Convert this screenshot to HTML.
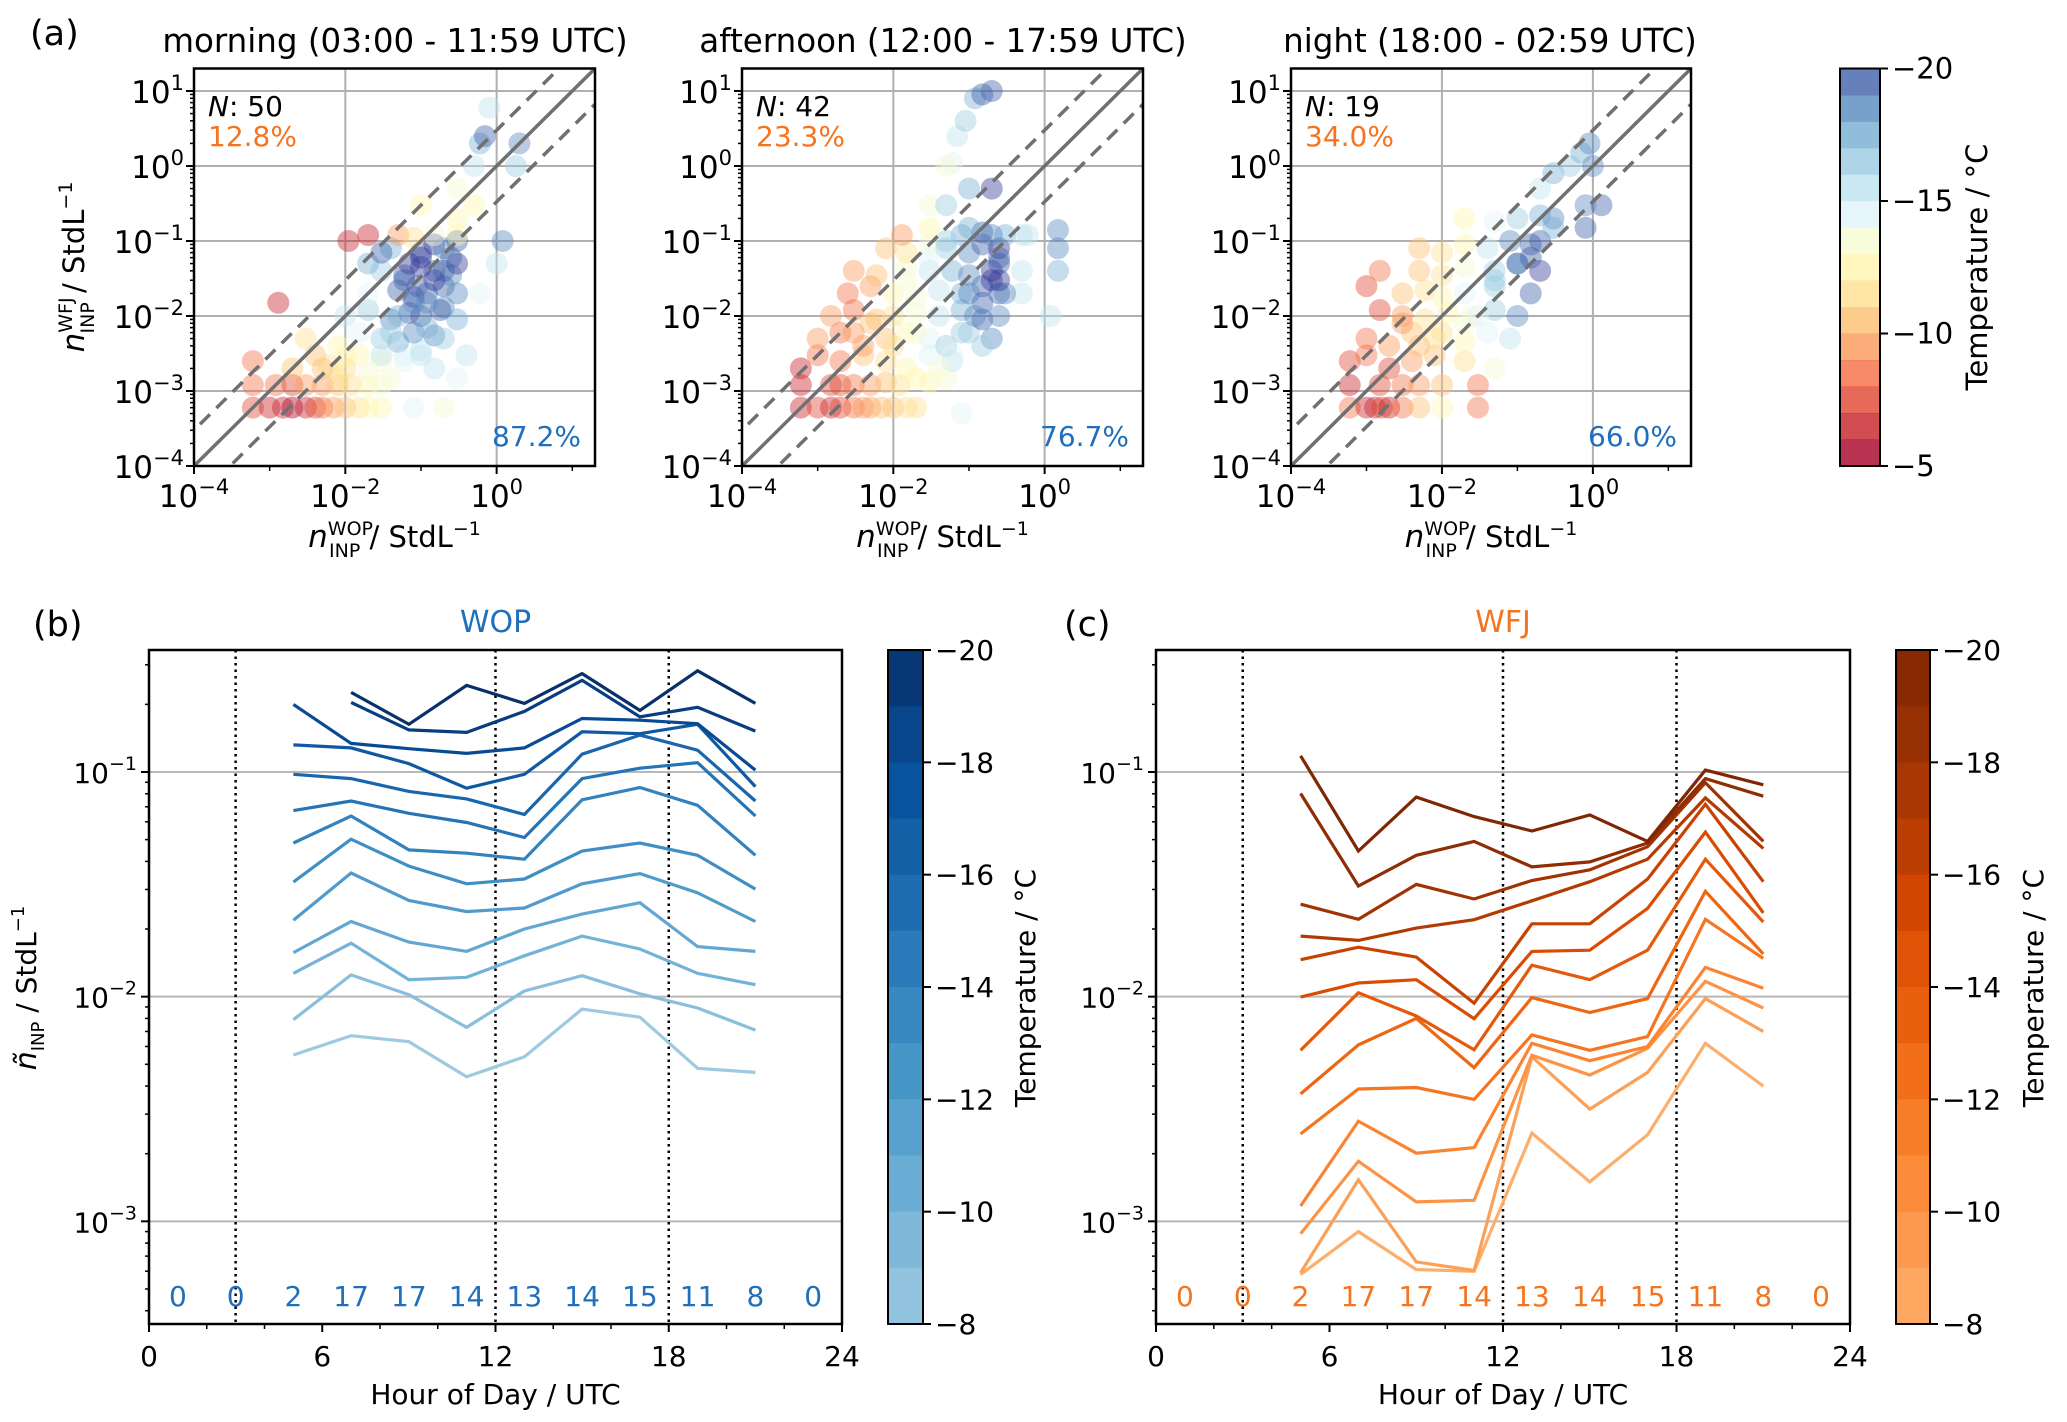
<!DOCTYPE html>
<html><head><meta charset="utf-8"><title>INP comparison WOP vs WFJ</title>
<style>
html,body{margin:0;padding:0;background:#fff;}
svg{display:block;font-family:"DejaVu Sans","Liberation Sans",sans-serif;}
</style></head>
<body>
<svg id="fig" width="2067" height="1422" viewBox="0 0 2067 1422" xmlns="http://www.w3.org/2000/svg">
<rect width="2067" height="1422" fill="#fff"/>
</svg>
<script>
// ---------------- DATA ----------------
// Panel (a) scatter data: morning
const mornX=[6e-4,1e-3,1.5e-3,2e-3,3e-3,4e-3,5e-3,7e-3,1e-2,1.5e-2,2e-2,3e-2,8e-2,
6e-4,1.2e-3,2e-3,3e-3,5e-3,8e-3,1.2e-2,2e-2,3e-2,
6e-4,2e-3,4e-3,6e-3,1e-2,3e-2,6e-2,0.1,
3e-3,8e-3,1.5e-2,3e-2,5e-2,8e-2,0.15,0.2,
1e-2,2e-2,4e-2,7e-2,0.1,0.2,0.3,
2e-2,5e-2,8e-2,0.12,0.2,0.3,
3e-2,6e-2,0.1,0.15,0.25,0.3,
0.04,0.1,0.15,0.2,0.3,
1.1e-2,2e-2,0.05,0.08,0.15,0.3,
1.3e-3,0.02,0.03,0.1,0.3,0.5,0.6,0.7,0.8,2,1.8,1.2,1,0.6,0.4,0.3,0.2,
0.06,0.08,0.1,0.12,0.15,0.18,0.25,0.07,0.09,0.12,0.2,0.05,0.04,0.03,0.015,0.01,0.008,0.005,0.02,0.04,0.06,0.1,0.15,0.3,0.5];
const mornY=[6e-4,6e-4,6e-4,6e-4,6e-4,6e-4,6e-4,6e-4,6e-4,6e-4,6e-4,6e-4,6e-4,
1.2e-3,1.2e-3,1.2e-3,1.2e-3,1.2e-3,1.2e-3,1.2e-3,1.2e-3,1.2e-3,
2.5e-3,2e-3,3e-3,2.2e-3,2.8e-3,2.5e-3,3e-3,3.5e-3,
5e-3,4e-3,6e-3,5e-3,4.5e-3,6e-3,5.5e-3,5e-3,
1e-2,1.2e-2,9e-3,1.1e-2,1e-2,1.3e-2,9e-3,
2e-2,2.2e-2,1.8e-2,2e-2,2.5e-2,2e-2,
4e-2,3.5e-2,4.5e-2,4e-2,3.5e-2,5e-2,
8e-2,7e-2,9e-2,8e-2,0.1,
0.1,0.12,0.12,0.11,0.12,0.12,
1.5e-2,0.05,0.07,0.3,0.5,1,2,2.5,6,2,1,0.1,0.05,0.02,3e-3,1.5e-3,6e-4,
0.03,0.015,0.06,0.007,0.03,0.012,0.06,0.05,0.025,0.015,0.04,0.01,0.006,0.003,0.003,0.002,0.0015,0.002,0.0018,0.0015,0.0025,0.003,0.002,0.2,0.3];
const mornT=[-7,-6,-6,-5,-6,-7,-8,-9,-10,-11,-12,-12,-14,
-8,-8,-7,-9,-9,-10,-11,-12,-13,
-8,-10,-10,-11,-12,-13,-14,-15,
-11,-12,-14,-16,-17,-18,-18,-16,
-15,-16,-18,-19,-19,-18,-17,
-14,-19,-20,-19,-19,-18,
-16,-19,-20,-19,-18,-20,
-17,-19,-20,-18,-19,
-6,-6,-9,-11,-13,-12,
-6,-17,-19,-12,-13,-15,-17,-19,-15,-18,-16,-18,-15,-14,-15,-14,-13,
-19,-18,-20,-17,-20,-19,-19,-20,-19,-18,-19,-17,-16,-15,-12,-11,-11,-10,-13,-13,-14,-15,-15,-12,-12];
// afternoon
const aftX=[6e-4,1e-3,1.5e-3,2e-3,3e-3,4e-3,5e-3,7e-3,1e-2,1.5e-2,2e-2,0.08,
6e-4,1.5e-3,2e-3,3e-3,5e-3,8e-3,1.2e-2,2e-2,3e-2,5e-2,
6e-4,1e-3,2e-3,4e-3,8e-3,1.5e-2,3e-2,6e-2,
1e-3,2e-3,4e-3,8e-3,1.5e-2,3e-2,5e-2,0.1,0.2,
1.5e-3,3e-3,6e-3,1e-2,2e-2,4e-2,8e-2,0.15,0.25,1.2,
2.5e-3,5e-3,1e-2,2e-2,4e-2,8e-2,0.15,0.25,0.5,
3e-3,6e-3,1.5e-2,3e-2,0.06,0.1,0.2,0.25,1.5,
8e-3,1.5e-2,3e-2,0.05,0.1,0.15,0.25,0.6,1.5,
1.3e-2,3e-2,0.08,0.15,0.3,0.5,1.5,
0.03,0.05,0.1,0.2,0.06,0.05,0.07,0.09,0.12,0.15,0.2,0.5,
0.1,0.15,0.2,0.25,0.08,0.12,0.3,0.06,0.04,0.02,0.01,0.005,0.003,0.015,0.03,0.05,0.1,0.2,0.25,0.15];
const aftY=[6e-4,6e-4,6e-4,6e-4,6e-4,6e-4,6e-4,6e-4,6e-4,6e-4,6e-4,5e-4,
1.2e-3,1.2e-3,1.2e-3,1.2e-3,1.2e-3,1.3e-3,1.2e-3,1.5e-3,1.3e-3,1.5e-3,
2e-3,3e-3,2.5e-3,3e-3,2.5e-3,2e-3,3e-3,2.5e-3,
5e-3,6e-3,4e-3,5e-3,6e-3,5e-3,4e-3,6e-3,5e-3,
1e-2,1.2e-2,9e-3,1e-2,1.1e-2,1e-2,1.2e-2,9e-3,1e-2,1e-2,
2e-2,2.5e-2,2e-2,1.8e-2,2.2e-2,2e-2,2.5e-2,2e-2,2e-2,
4e-2,3.5e-2,4.5e-2,4e-2,4e-2,3.5e-2,4e-2,5e-2,4e-2,
8e-2,7e-2,9e-2,8e-2,7e-2,9e-2,8e-2,0.12,0.08,
0.12,0.15,0.12,0.13,0.12,0.12,0.14,
0.3,0.3,0.5,0.5,1.1,1,2.5,4,8,9,10,0.04,
0.02,0.015,0.03,0.06,0.006,0.01,0.02,0.003,0.002,0.006,0.004,0.008,0.006,0.03,0.06,0.1,0.15,0.12,0.03,0.004];
const aftT=[-6,-7,-6,-7,-8,-9,-9,-10,-10,-11,-11,-14,
-6,-7,-7,-8,-9,-10,-11,-12,-12,-13,
-6,-8,-8,-10,-11,-12,-14,-15,
-9,-8,-9,-10,-12,-14,-16,-16,-18,
-9,-8,-10,-11,-13,-15,-17,-19,-18,-15,
-8,-9,-12,-13,-15,-17,-19,-19,-15,
-9,-10,-13,-15,-17,-18,-20,-19,-17,
-10,-11,-13,-16,-18,-19,-20,-15,-18,
-9,-12,-17,-19,-17,-15,-18,
-13,-16,-17,-20,-14,-13,-15,-16,-17,-19,-19,-15,
-18,-19,-20,-19,-16,-18,-18,-14,-13,-13,-11,-10,-9,-13,-14,-16,-17,-18,-20,-16];
// night
const nightX=[6e-4,1e-3,1.3e-3,1.6e-3,2e-3,3e-3,5e-3,1e-2,3e-2,
6e-4,1.5e-3,3e-3,5e-3,1e-2,3e-2,
6e-4,1e-3,2e-3,4e-3,8e-3,2e-2,5e-2,
1e-3,2e-3,4e-3,8e-3,2e-2,4e-2,8e-2,
1.5e-3,3e-3,6e-3,1.2e-2,2.5e-2,5e-2,0.1,
1e-3,3e-3,6e-3,1e-2,2e-2,5e-2,0.15,
1.5e-3,5e-3,1e-2,2e-2,5e-2,0.1,0.2,
5e-3,1e-2,2e-2,4e-2,8e-2,0.15,
2e-2,5e-2,0.1,0.2,0.3,0.8,
0.2,0.3,0.5,0.7,0.9,1,1.3,0.8,
0.05,0.1,0.15,0.2,0.02,0.01,0.005,0.003,0.03,0.3];
const nightY=[6e-4,6e-4,6e-4,6e-4,6e-4,6e-4,6e-4,6e-4,6e-4,
1.2e-3,1.2e-3,1.2e-3,1.2e-3,1.2e-3,1.2e-3,
2.5e-3,3e-3,2e-3,2.5e-3,3e-3,2.5e-3,2e-3,
5e-3,4e-3,6e-3,5e-3,4.5e-3,6e-3,5e-3,
1.2e-2,1e-2,9e-3,1.1e-2,1e-2,1.2e-2,1e-2,
2.5e-2,2e-2,2.2e-2,1.8e-2,2e-2,2.5e-2,2e-2,
4e-2,4e-2,3.5e-2,4.5e-2,4e-2,5e-2,4e-2,
8e-2,7e-2,9e-2,8e-2,0.1,0.09,
0.2,0.18,0.2,0.22,0.2,0.15,
0.5,0.8,1,1.5,2,1,0.3,0.3,
0.03,0.05,0.06,0.1,0.008,0.006,0.004,0.008,0.01,0.15];
const nightT=[-8,-6,-6,-7,-6,-8,-10,-12,-8,
-6,-7,-8,-9,-10,-8,
-7,-8,-7,-9,-10,-11,-13,
-8,-9,-10,-11,-12,-14,-15,
-7,-9,-11,-12,-13,-16,-18,
-7,-10,-11,-12,-14,-16,-19,
-8,-10,-11,-13,-16,-19,-20,
-10,-11,-12,-15,-18,-19,
-12,-14,-16,-17,-18,-19,
-15,-17,-16,-17,-18,-18,-19,-18,
-16,-18,-19,-19,-13,-11,-10,-9,-14,-17];
const panelTitles=["morning (03:00 - 11:59 UTC)","afternoon (12:00 - 17:59 UTC)","night (18:00 - 02:59 UTC)"];
const panelN=[50,42,19];
const panelUpperPct=["12.8%","23.3%","34.0%"];
const panelLowerPct=["87.2%","76.7%","66.0%"];

// Panels (b),(c): hours and line values (index 0 = warmest -8 °C ... 12 = coldest -20 °C)
const hours=[5,7,9,11,13,15,17,19,21];
const lineTemps=[-8,-9,-10,-11,-12,-13,-14,-15,-16,-17,-18,-19,-20];
const wop5=[0.0055,0.0079,0.0127,0.0157,0.0219,0.0324,0.0483,0.0673,0.0977,0.132,0.200,null,null];
const wop7=[0.0067,0.0125,0.0173,0.0216,0.0355,0.0502,0.0637,0.0743,0.0935,0.128,0.134,0.204,0.226];
const wop9=[0.0063,0.0102,0.0119,0.0175,0.0268,0.0381,0.0450,0.0655,0.0820,0.109,0.127,0.154,0.163];
const wop11=[0.0044,0.0073,0.0122,0.0159,0.0239,0.0318,0.0435,0.0596,0.0759,0.0847,0.121,0.150,0.243];
const wop13=[0.0054,0.0106,0.0152,0.0200,0.0248,0.0334,0.0409,0.0511,0.0647,0.0977,0.128,0.186,0.202];
const wop15=[0.0088,0.0124,0.0186,0.0233,0.0318,0.0445,0.0752,0.0935,0.120,0.151,0.173,0.256,0.274];
const wop17=[0.0081,0.0103,0.0163,0.0262,0.0353,0.0483,0.0853,0.104,0.146,0.148,0.170,0.176,0.188];
const wop19=[0.0048,0.0089,0.0127,0.0167,0.0290,0.0426,0.0711,0.110,0.125,0.163,0.164,0.194,0.282];
const wop21=[0.0046,0.0071,0.0113,0.0159,0.0216,0.0301,0.0426,0.0637,0.0743,0.0861,0.102,0.152,0.202];
const wfj5=[5.8e-4,5.9e-4,8.8e-4,1.17e-3,2.45e-3,3.69e-3,5.77e-3,9.95e-3,0.0146,0.0186,0.0258,0.0802,0.118];
const wfj7=[9.0e-4,1.53e-3,1.85e-3,2.79e-3,3.88e-3,6.1e-3,0.0104,0.0115,0.0166,0.0178,0.0221,0.0311,0.0445];
const wfj9=[6.1e-4,6.6e-4,1.22e-3,2.01e-3,3.94e-3,8.0e-3,8.2e-3,0.0119,0.0150,0.0202,0.0316,0.0426,0.0773];
const wfj11=[6.0e-4,6.05e-4,1.24e-3,2.13e-3,3.49e-3,4.83e-3,5.8e-3,7.98e-3,9.35e-3,0.0220,0.0272,0.0491,0.0633];
const wfj13=[2.47e-3,5.4e-3,5.48e-3,6.2e-3,6.76e-3,9.9e-3,0.0138,0.0159,0.0211,0.0267,0.0329,0.0378,0.0546];
const wfj15=[1.50e-3,3.16e-3,4.48e-3,5.19e-3,5.77e-3,8.5e-3,0.0119,0.0161,0.0211,0.0325,0.0367,0.0398,0.0644];
const wfj17=[2.43e-3,4.6e-3,5.89e-3,6.0e-3,6.65e-3,9.8e-3,0.0161,0.0247,0.0334,0.0409,0.0465,0.0483,0.0491];
const wfj19=[6.2e-3,9.8e-3,0.0117,0.0135,0.0221,0.0294,0.0409,0.0540,0.0718,0.0767,0.0896,0.0935,0.102];
const wfj21=[4.0e-3,7.0e-3,8.9e-3,0.0109,0.0148,0.0155,0.0215,0.0236,0.0325,0.0457,0.0491,0.0780,0.0877];
const countHours=[1,3,5,7,9,11,13,15,17,19,21,23];
const countLabels=[0,0,2,17,17,14,13,14,15,11,8,0];
const periodBounds=[3,12,18];

// ---------------- HELPERS ----------------
const NS="http://www.w3.org/2000/svg";
const svg=document.getElementById('fig');
function mk(tag,attrs,parent){const e=document.createElementNS(NS,tag);for(const k in attrs)e.setAttribute(k,attrs[k]);(parent||svg).appendChild(e);return e;}
function hex(c){return [parseInt(c.slice(1,3),16),parseInt(c.slice(3,5),16),parseInt(c.slice(5,7),16)];}
function interp(stops,t){t=Math.max(0,Math.min(1,t));const n=stops.length-1;const i=Math.min(n-1,Math.floor(t*n));const f=t*n-i;const a=hex(stops[i]),b=hex(stops[i+1]);return 'rgb('+a.map((v,k)=>Math.round(v+(b[k]-v)*f)).join(',')+')';}
const RDYLBU=['#a50026','#d73027','#f46d43','#fdae61','#fee090','#ffffbf','#e0f3f8','#abd9e9','#74add1','#4575b4','#313695'];
const BLUES=['#9ecae1','#6baed6','#4292c6','#2171b5','#08519c','#08306b'];
const ORANGES=['#fdae6b','#fd8d3c','#f16913','#d94801','#a63603','#7f2704'];
function rdylbu(T){const q=Math.round(T);return interp(RDYLBU,(-5-q)/15);}
function supText(parent,x,y,base,exp,anchor,size){
  const t=mk('text',{x:x,y:y,'font-size':size||28,'text-anchor':anchor||'middle',fill:'#000'},parent);
  t.appendChild(document.createTextNode(base));
  const s=mk('tspan',{dy:-13,'font-size':Math.round((size||28)*0.68)},t);s.textContent=exp;
  return t;
}
const log10=Math.log10;

// ---------------- PANEL (a) ----------------
const scT=68.5,scB=466,lmin=-4,lmax=1.3;
const scPanels=[{L:194,R:595,cx:395,xs:mornX,ys:mornY,ts:mornT},{L:742,R:1143,cx:943,xs:aftX,ys:aftY,ts:aftT},{L:1291,R:1691,cx:1490,xs:nightX,ys:nightY,ts:nightT}];
const defs=mk('defs',{});
scPanels.forEach((p,pi)=>{
  const g=mk('g',{});
  
  
  const sx=v=>p.L+(log10(v)-lmin)/(lmax-lmin)*(p.R-p.L);
  const sy=v=>scB-(log10(v)-lmin)/(lmax-lmin)*(scB-scT);
  const cp=mk('clipPath',{id:'clipa'+pi},defs);mk('rect',{x:p.L,y:scT,width:p.R-p.L,height:scB-scT},cp);
  for(let k=-4;k<=1;k++){const l=mk('line',{x1:p.L,x2:p.R,y1:sy(Math.pow(10,k)),y2:sy(Math.pow(10,k)),stroke:'#b0b0b0','stroke-width':2},g);}
  [-2,0].forEach(k=>{const l=mk('line',{x1:sx(Math.pow(10,k)),x2:sx(Math.pow(10,k)),y1:scT,y2:scB,stroke:'#b0b0b0','stroke-width':2},g);});
  const pg=mk('g',{'clip-path':'url(#clipa'+pi+')'},g);
  const n=Math.min(p.xs.length,p.ys.length,p.ts.length);
  for(let i=0;i<n;i++){
    const c=mk('circle',{cx:sx(p.xs[i]),cy:sy(p.ys[i]),r:11,fill:rdylbu(p.ts[i]),'fill-opacity':0.42},pg);
    
    
  }
  const lg=mk('g',{'clip-path':'url(#clipa'+pi+')'},g);
  [[1,'none'],[3,'14,9'],[1/3,'14,9']].forEach(([f,d])=>{
    const l=mk('line',{x1:sx(1e-5),y1:sy(1e-5*f),x2:sx(100),y2:sy(100*f),stroke:'#707070','stroke-width':3.5,'stroke-dasharray':d},lg);
    
    
  });
  mk('rect',{x:p.L,y:scT,width:p.R-p.L,height:scB-scT,fill:'none',stroke:'#000','stroke-width':2.5},g);
  for(let k=-4;k<=1;k++){
    mk('line',{x1:p.L-8,x2:p.L,y1:sy(Math.pow(10,k)),y2:sy(Math.pow(10,k)),stroke:'#000','stroke-width':2},g);
    const t=supText(g,p.L-10,sy(Math.pow(10,k))+12,'10',k<0?'\u2212'+(-k):String(k),'end',31);
    
    if(k<1)for(let m=2;m<10;m++){const yy=sy(m*Math.pow(10,k));if(yy>=scT)mk('line',{x1:p.L-4,x2:p.L,y1:yy,y2:yy,stroke:'#000','stroke-width':1.5},g);}
  }
  for(let m=2;m<10;m++){const yy=sy(m*10);if(yy>=scT)mk('line',{x1:p.L-4,x2:p.L,y1:yy,y2:yy,stroke:'#000','stroke-width':1.5},g);}
  [-4,-2,0].forEach(k=>{
    const xx=sx(Math.pow(10,k));
    mk('line',{x1:xx,x2:xx,y1:scB,y2:scB+8,stroke:'#000','stroke-width':2},g);
    const t=supText(g,xx,507,'10',k<0?'\u2212'+(-k):String(k),'middle',31);
    
  });
  [-3,-1,1].forEach(k=>{const xx=sx(Math.pow(10,k));mk('line',{x1:xx,x2:xx,y1:scB,y2:scB+5,stroke:'#000','stroke-width':1.5},g);});
  const ti=mk('text',{x:p.cx,y:52,'font-size':32.5,'text-anchor':'middle'},g);ti.textContent=panelTitles[pi];
  
  const nt=mk('text',{x:p.L+14,y:116,'font-size':28},g);
  const ni=mk('tspan',{'font-style':'italic'},nt);ni.textContent='N';
  nt.appendChild(document.createTextNode(': '+panelN[pi]));
  
  const up=mk('text',{x:p.L+14,y:146,'font-size':28,fill:'#f5741e'},g);up.textContent=panelUpperPct[pi];
  
  const lo=mk('text',{x:p.R-14,y:446,'font-size':28,fill:'#1f6fbd','text-anchor':'end'},g);lo.textContent=panelLowerPct[pi];
  
  const xl=mk('text',{x:(p.L+p.R)/2,y:547,'font-size':29,'text-anchor':'middle'},g);
  const xn=mk('tspan',{'font-style':'italic','font-size':31},xl);xn.textContent='n';
  const xs1=mk('tspan',{dy:-12,'font-size':19},xl);xs1.textContent='WOP';
  const xs2=mk('tspan',{dx:-44,dy:22,'font-size':19},xl);xs2.textContent='INP';
  const xs3=mk('tspan',{dy:-10},xl);xs3.textContent=' / StdL';
  const xs4=mk('tspan',{dy:-12,'font-size':19},xl);xs4.textContent='\u22121';
  
});
{const yl=mk('text',{x:0,y:0,'font-size':29,'text-anchor':'middle',transform:'translate(84,267) rotate(-90)'});
const a=mk('tspan',{'font-style':'italic','font-size':31},yl);a.textContent='n';
const b=mk('tspan',{dy:-12,'font-size':19},yl);b.textContent='WFJ';
const c=mk('tspan',{dx:-36,dy:22,'font-size':19},yl);c.textContent='INP';
const d=mk('tspan',{dy:-10},yl);d.textContent=' / StdL';
const e=mk('tspan',{dy:-12,'font-size':19},yl);e.textContent='\u22121';
}
{const t=mk('text',{x:30,y:45,'font-size':35});t.textContent='(a)';}

// colorbar (a)
{const g=mk('g',{});
const L=1840,R=1880,T=68.5,B=466;const n=15;
for(let i=0;i<n;i++){const T0=-20+i;const y=T+(B-T)*i/n;
  const r=mk('rect',{x:L,y:y,width:R-L,height:(B-T)/n+0.5,fill:rdylbu(T0+0.5),'fill-opacity':0.8},g);}
mk('rect',{x:L,y:T,width:R-L,height:B-T,fill:'none',stroke:'#000','stroke-width':2},g);
[-20,-15,-10,-5].forEach(v=>{const y=T+(B-T)*(v+20)/15;mk('line',{x1:R,x2:R+8,y1:y,y2:y,stroke:'#000','stroke-width':2},g);
 const t=mk('text',{x:R+12,y:y+10,'font-size':29},g);t.textContent='\u2212'+(-v);});
const tl=mk('text',{x:0,y:0,'font-size':29,'text-anchor':'middle',transform:'translate(1987,267) rotate(-90)'},g);tl.textContent='Temperature / \u00b0C';}

// ---------------- PANELS (b),(c) ----------------
const lT=650,lB=1324,lymin=-3.457,lymax=-0.457;
function linePanel(cfg){
  const g=mk('g',{});
  const sx=h=>cfg.L+h/24*(cfg.R-cfg.L);
  const sy=v=>lB-(log10(v)-lymin)/(lymax-lymin)*(lB-lT);
  [1e-1,1e-2,1e-3].forEach(v=>{const l=mk('line',{x1:cfg.L,x2:cfg.R,y1:sy(v),y2:sy(v),stroke:'#b8b8b8','stroke-width':2},g);});
  periodBounds.forEach(h=>{const l=mk('line',{x1:sx(h),x2:sx(h),y1:lT,y2:lB,stroke:'#000','stroke-width':2.5,'stroke-dasharray':'2.5,4'},g);});
  const cols=cfg.cols;
  for(let li=0;li<lineTemps.length;li++){
    const pts=[];hours.forEach((h,hi)=>{const v=cols[hi][li];if(v!=null)pts.push(sx(h).toFixed(1)+','+sy(v).toFixed(1));});
    const pl=mk('polyline',{points:pts.join(' '),fill:'none',stroke:interp(cfg.cmap,(-8-lineTemps[li])/12),'stroke-width':3.2,'stroke-linejoin':'miter'},g);
    
    
  }
  countHours.forEach((h,i)=>{const t=mk('text',{x:sx(h),y:1306,'font-size':28,'text-anchor':'middle',fill:cfg.color},g);t.textContent=countLabels[i];
    });
  mk('rect',{x:cfg.L,y:lT,width:cfg.R-cfg.L,height:lB-lT,fill:'none',stroke:'#000','stroke-width':2.5},g);
  [1e-1,1e-2,1e-3].forEach(v=>{const y=sy(v);mk('line',{x1:cfg.L-8,x2:cfg.L,y1:y,y2:y,stroke:'#000','stroke-width':2},g);
    const t=supText(g,cfg.L-12,y+11,'10','\u2212'+Math.round(-log10(v)),'end',28);});
  for(let k=-4;k<=-1;k++)for(let m=2;m<10;m++){const y=sy(m*Math.pow(10,k));if(y>=lT&&y<=lB)mk('line',{x1:cfg.L-4,x2:cfg.L,y1:y,y2:y,stroke:'#000','stroke-width':1.5},g);}
  for(let h=0;h<=24;h+=2){const maj=h%6===0;mk('line',{x1:sx(h),x2:sx(h),y1:lB,y2:lB+(maj?8:5),stroke:'#000','stroke-width':maj?2:1.5},g);
    if(maj){const t=mk('text',{x:sx(h),y:1366,'font-size':28,'text-anchor':'middle'},g);t.textContent=h;}}
  const xl=mk('text',{x:(cfg.L+cfg.R)/2,y:1404,'font-size':28,'text-anchor':'middle'},g);xl.textContent='Hour of Day / UTC';
  
  const ti=mk('text',{x:(cfg.L+cfg.R)/2,y:632,'font-size':30,'text-anchor':'middle',fill:cfg.color},g);ti.textContent=cfg.title;
  
  const pl=mk('text',{x:cfg.labX,y:636,'font-size':35},g);pl.textContent=cfg.lab;
  
  const cb=mk('g',{},g);
  const n=12;for(let i=0;i<n;i++){const T0=-20+i;const y=lT+(lB-lT)*i/n;
    mk('rect',{x:cfg.cbL,y:y,width:cfg.cbR-cfg.cbL,height:(lB-lT)/n+0.5,fill:interp(cfg.cmap,(-8-(T0+0.5))/12)},cb);}
  mk('rect',{x:cfg.cbL,y:lT,width:cfg.cbR-cfg.cbL,height:lB-lT,fill:'none',stroke:'#000','stroke-width':2},cb);
  for(let v=-20;v<=-8;v+=2){const y=lT+(lB-lT)*(v+20)/12;mk('line',{x1:cfg.cbR,x2:cfg.cbR+8,y1:y,y2:y,stroke:'#000','stroke-width':2},cb);
    const t=mk('text',{x:cfg.cbR+12,y:y+10,'font-size':28},cb);t.textContent='\u2212'+(-v);}
  const tl=mk('text',{x:0,y:0,'font-size':28,'text-anchor':'middle',transform:'translate('+cfg.cbTitleX+',988) rotate(-90)'},cb);tl.textContent='Temperature / \u00b0C';
}
linePanel({name:'panel-b-wop',L:149,R:842,cols:[wop5,wop7,wop9,wop11,wop13,wop15,wop17,wop19,wop21],cmap:BLUES,color:'#1f6fbd',title:'WOP',lab:'(b)',labX:33,cbL:888,cbR:923,cbTitleX:1035});
linePanel({name:'panel-c-wfj',L:1156,R:1850,cols:[wfj5,wfj7,wfj9,wfj11,wfj13,wfj15,wfj17,wfj19,wfj21],cmap:ORANGES,color:'#f5741e',title:'WFJ',lab:'(c)',labX:1064,cbL:1896,cbR:1930,cbTitleX:2043});
{const yl=mk('text',{x:0,y:0,'font-size':28,'text-anchor':'middle',transform:'translate(36,988) rotate(-90)'});
const a=mk('tspan',{'font-style':'italic','font-size':30},yl);a.textContent='\u00f1';
const c=mk('tspan',{dy:8,'font-size':18},yl);c.textContent='INP';
const d=mk('tspan',{dy:-8},yl);d.textContent=' / StdL';
const e=mk('tspan',{dy:-12,'font-size':18},yl);e.textContent='\u22121';
}
</script>
</body></html>
